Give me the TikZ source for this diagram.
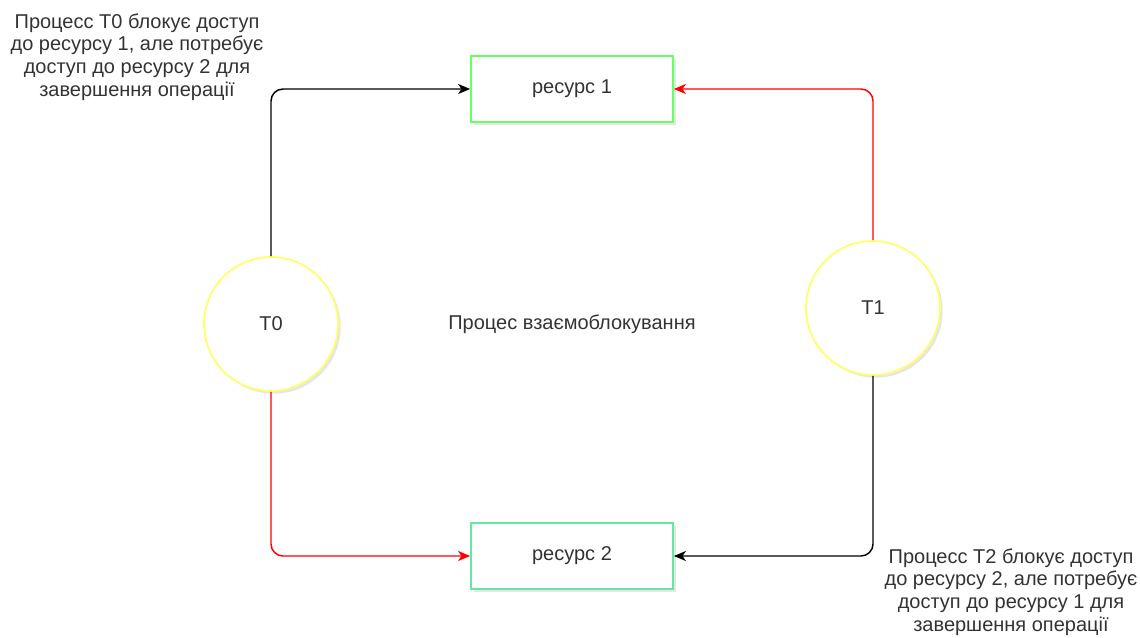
\documentclass[tikz,border=0pt]{standalone}
\usepackage{fontspec}
\setmainfont{Liberation Sans}
\usetikzlibrary{arrows.meta, shadows}

\definecolor{txt}{HTML}{333333}
\definecolor{grn}{HTML}{66FF66}
\definecolor{mint}{HTML}{66E6A3}
\definecolor{ylw}{HTML}{FFFF66}
\definecolor{redline}{HTML}{FF0000}

\begin{document}
\begin{tikzpicture}[
  x=0.75pt, y=-0.75pt,
  font=\fontsize{15}{17}\selectfont, text=txt,
  res/.style={rectangle,fill=white,line width=1.3pt,minimum width=151.5pt,minimum height=49.5pt,
    drop shadow={opacity=0.2,shadow xshift=2pt,shadow yshift=-2pt}},
  proc/.style={circle,fill=white,draw=ylw,line width=1.3pt,minimum size=100.5pt,
    drop shadow={opacity=0.2,shadow xshift=2pt,shadow yshift=-2pt}},
  msg/.style={-{Stealth[length=9pt,width=7.5pt,inset=2.5pt]},line width=1.1pt,rounded corners=9pt},
  note/.style={align=center}
]
  \useasboundingbox (0,0) rectangle (1140,637);

  \node[res,draw=grn](R1) at (572,89)  {ресурс 1};
  \node[res,draw=mint](R2) at (572,556) {ресурс 2};
  \node[proc](T0) at (271,324) {T0};
  \node[proc](T1) at (873,308) {T1};
  \node(mid) at (572,324) {Процес взаємоблокування};

  % запити до ресурсів
  \draw[msg,black](T0.north) |- (R1.west);
  \draw[msg,redline](T0.south) |- (R2.west);
  \draw[msg,redline](T1.north) |- (R1.east);
  \draw[msg,black](T1.south) |- (R2.east);

  \node[note](n0) at (137,57) {Процесс Т0 блокує доступ\\до ресурсу 1, але потребує\\доступ до ресурсу 2 для\\завершення операції};
  \node[note](n1) at (1011,592) {Процесс Т2 блокує доступ\\до ресурсу 2, але потребує\\доступ до ресурсу 1 для\\завершення операції};
\end{tikzpicture}
\end{document}
